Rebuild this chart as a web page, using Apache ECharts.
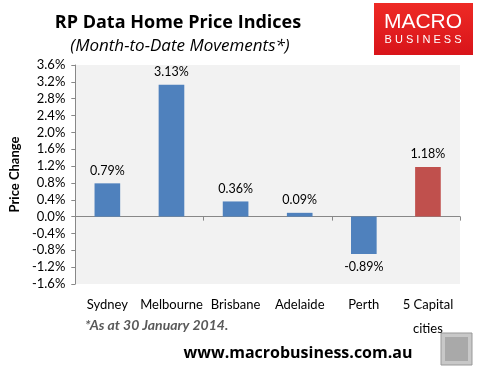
<!DOCTYPE html>
<html><head><meta charset="utf-8">
<script src="https://cdn.jsdelivr.net/npm/echarts@6/dist/echarts.min.js"></script>
<style>html,body{margin:0;padding:0;background:#fff}#c{width:481px;height:371px}</style>
</head><body><div id="c"></div>
<script>
var categories = ['Sydney', 'Melbourne', 'Brisbane', 'Adelaide', 'Perth', '5 Capital\ncities'];
var values = [0.79, 3.13, 0.36, 0.09, -0.89, 1.18];
var barColors = ['#4f81bd', '#4f81bd', '#4f81bd', '#4f81bd', '#4f81bd', '#c0504d'];
var yMin = -1.6, yMax = 3.6, yStep = 0.4;

var FONT = 'Lato, "Open Sans", sans-serif';
var chart = echarts.init(document.getElementById('c'), null, {renderer: 'canvas'});
chart.setOption({
  animation: false,
  textStyle: {fontFamily: FONT},
  title: [
    {text: 'RP Data Home Price Indices', left: 173, top: 9, textAlign: 'center',
     textStyle: {fontSize: 18, fontWeight: 'bold', color: '#000', fontFamily: '"Open Sans", sans-serif'}},
    {text: '(Month-to-Date Movements*)', left: 175, top: 33, textAlign: 'center',
     textStyle: {fontSize: 17, fontStyle: 'italic', fontWeight: 'normal', color: '#000', fontFamily: '"Open Sans", sans-serif'}}
  ],
  grid: {left: 63, right: 21, top: 65, bottom: 87, backgroundColor: '#f2f2f2', show: true, borderWidth: 0},
  xAxis: [
    {type: 'category', data: categories, position: 'bottom',
     axisLine: {show: false, onZero: false}, axisTick: {show: false},
     axisLabel: {interval: 0, color: '#000', fontSize: 13, margin: 9, lineHeight: 24, fontFamily: FONT}},
    {type: 'category', data: categories, position: 'bottom',
     axisLine: {show: true, onZero: true, lineStyle: {color: '#888', width: 1}},
     axisTick: {show: true, length: 4, lineStyle: {color: '#888'}},
     axisLabel: {show: false}}
  ],
  yAxis: {
    type: 'value', min: yMin, max: yMax, interval: yStep,
    name: 'Price Change', nameLocation: 'middle', nameGap: 46, nameRotate: 90,
    nameTextStyle: {fontSize: 13, fontWeight: 'bold', color: '#000', fontFamily: FONT},
    axisLine: {show: true, lineStyle: {color: '#888'}},
    axisTick: {show: true, length: 4, inside: false, lineStyle: {color: '#888'}},
    splitLine: {show: false},
    axisLabel: {color: '#000', fontSize: 13, margin: 10, fontFamily: FONT,
      formatter: function (v) { return v.toFixed(1) + '%'; }}
  },
  series: [{
    type: 'bar', xAxisIndex: 0,
    data: values.map(function (v, i) { return {value: v, itemStyle: {color: barColors[i]},
      label: {position: v < 0 ? 'bottom' : 'top'}}; }),
    barCategoryGap: '60%',
    label: {show: true, color: '#000', fontSize: 12.5, distance: 6, fontFamily: FONT,
      formatter: function (p) { return p.value.toFixed(2) + '%'; }}
  }],
  graphic: [
    {type: 'rect', shape: {x: 374, y: 3, width: 99, height: 52},
     style: {fill: {type: 'linear', x: 0, y: 0, x2: 0, y2: 1,
       colorStops: [{offset: 0, color: '#ee2a25'}, {offset: 1, color: '#d8141a'}]}}},
    {type: 'text', x: 423, y: 22, style: {text: 'MACRO', fill: '#fff', fontSize: 21,
      fontFamily: '"Liberation Sans", Arial, sans-serif', align: 'center', verticalAlign: 'middle'}},
    {type: 'text', x: 423, y: 40, style: {text: 'B U S I N E S S', fill: '#fff', fontSize: 11,
      fontFamily: '"Liberation Sans", Arial, sans-serif', align: 'center', verticalAlign: 'middle'}},
    {type: 'text', x: 85, y: 325, style: {text: '*As at 30 January 2014.', fill: '#595959',
      fontSize: 14, fontWeight: 'bold', fontStyle: 'italic', fontFamily: FONT, verticalAlign: 'middle'}},
    {type: 'text', x: 298, y: 353, style: {text: 'www.macrobusiness.com.au', fill: '#000',
      fontSize: 16, fontWeight: 'bold', fontFamily: '"Open Sans", sans-serif', align: 'center', verticalAlign: 'middle'}},
    {type: 'rect', shape: {x: 441, y: 333, width: 31, height: 32},
     style: {fill: '#c8c8c8', stroke: '#999', lineWidth: 1}},
    {type: 'rect', shape: {x: 445, y: 337, width: 23, height: 24},
     style: {fill: '#a9a9a9', stroke: null}}
  ]
});
</script></body></html>
